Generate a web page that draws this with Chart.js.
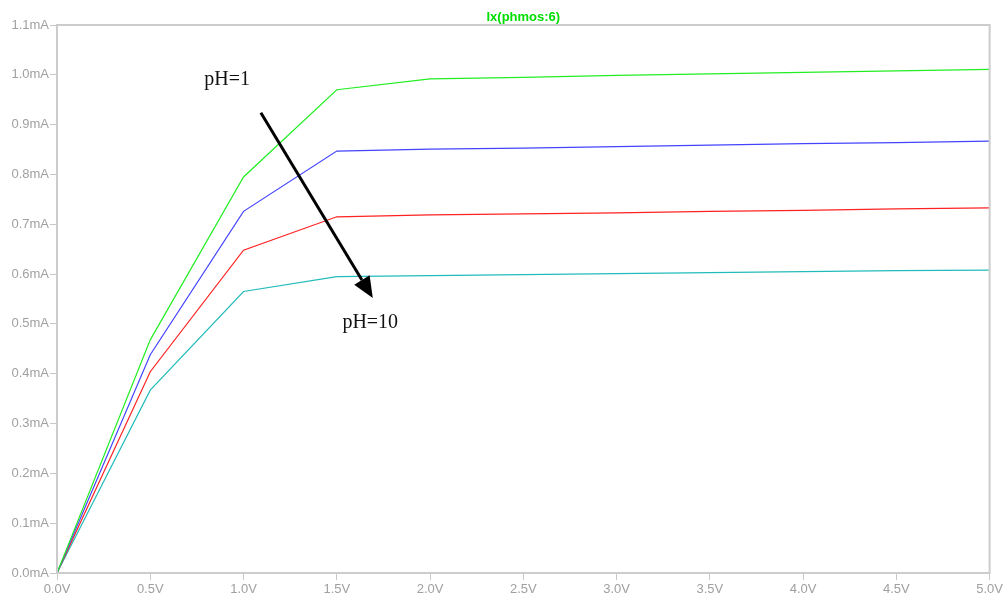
<!DOCTYPE html>
<html>
<head>
<meta charset="utf-8">
<script src="https://cdn.jsdelivr.net/npm/chart.js@4.4.0/dist/chart.umd.min.js"></script>
<style>
  html, body { margin: 0; padding: 0; background: #ffffff; }
  #wrap { width: 1005px; height: 597px; }
</style>
</head>
<body>
<div id="wrap"><canvas id="c" width="1005" height="597"></canvas></div>
<script>
// ---- data ----
const voltages = [0.0, 0.5, 1.0, 1.5, 2.0, 2.5, 3.0, 3.5, 4.0, 4.5, 5.0];
const ph1  = [0, 0.468, 0.795, 0.970, 0.992, 0.995, 0.999, 1.002, 1.005, 1.008, 1.011]; // green
const phA  = [0, 0.438, 0.726, 0.847, 0.851, 0.853, 0.856, 0.859, 0.862, 0.864, 0.867]; // blue
const phB  = [0, 0.404, 0.648, 0.715, 0.719, 0.721, 0.723, 0.726, 0.728, 0.731, 0.733]; // red
const ph10 = [0, 0.367, 0.565, 0.595, 0.597, 0.599, 0.601, 0.603, 0.605, 0.607, 0.608]; // cyan
const seriesColors = ['#22ee22', '#4444ff', '#ff2222', '#22bbbb'];
const titleText = 'Ix(phmos:6)';
const label1 = 'pH=1';
const label10 = 'pH=10';
// annotation anchors in data units [V, mA]
const label1Pos = [0.79, 0.980];
const label10Pos = [1.53, 0.492];
const arrowFrom = [1.093, 0.924];
const arrowTo = [1.693, 0.552];

const toPts = arr => voltages.map((v, i) => ({x: v, y: arr[i]}));
const allSeries = [ph1, phA, phB, ph10];

const framePlugin = {
  id: 'frame',
  afterDraw(chart) {
    const ctx = chart.ctx;
    const a = chart.chartArea;
    const xs = chart.scales.x, ys = chart.scales.y;
    ctx.save();
    // frame
    ctx.strokeStyle = '#cccccc';
    ctx.lineWidth = 2;
    ctx.strokeRect(a.left, a.top, a.right - a.left, a.bottom - a.top);
    // title
    ctx.fillStyle = '#00dd00';
    ctx.font = 'bold 13px "Liberation Sans", Arial, sans-serif';
    ctx.textAlign = 'center';
    ctx.textBaseline = 'middle';
    ctx.fillText(titleText, (a.left + a.right) / 2, 17);
    // labels
    ctx.fillStyle = '#111111';
    ctx.font = '20px "Liberation Serif", "Times New Roman", serif';
    ctx.textAlign = 'left';
    ctx.textBaseline = 'alphabetic';
    ctx.fillText(label1, xs.getPixelForValue(label1Pos[0]), ys.getPixelForValue(label1Pos[1]));
    ctx.fillText(label10, xs.getPixelForValue(label10Pos[0]), ys.getPixelForValue(label10Pos[1]));
    // arrow
    const x1 = xs.getPixelForValue(arrowFrom[0]), y1 = ys.getPixelForValue(arrowFrom[1]);
    const x2 = xs.getPixelForValue(arrowTo[0]), y2 = ys.getPixelForValue(arrowTo[1]);
    const ang = Math.atan2(y2 - y1, x2 - x1);
    const headLen = 21, headW = 9;
    const bx = x2 - headLen * Math.cos(ang), by = y2 - headLen * Math.sin(ang);
    ctx.strokeStyle = '#000000';
    ctx.lineWidth = 3;
    ctx.beginPath();
    ctx.moveTo(x1, y1);
    ctx.lineTo(bx, by);
    ctx.stroke();
    ctx.fillStyle = '#000000';
    ctx.beginPath();
    ctx.moveTo(x2, y2);
    ctx.lineTo(bx + headW * Math.sin(ang), by - headW * Math.cos(ang));
    ctx.lineTo(bx - headW * Math.sin(ang), by + headW * Math.cos(ang));
    ctx.closePath();
    ctx.fill();
    ctx.restore();
  }
};

const tickFont = { family: '"Liberation Sans", Arial, sans-serif', size: 13 };

new Chart(document.getElementById('c'), {
  type: 'line',
  data: {
    datasets: allSeries.map((s, i) => ({
      data: toPts(s),
      borderColor: seriesColors[i],
      borderWidth: 1.2,
      pointRadius: 0,
      tension: 0,
      fill: false
    }))
  },
  options: {
    responsive: false,
    animation: false,
    events: [],
    layout: { padding: { top: 25, right: 15, left: 0, bottom: 0 } },
    plugins: { legend: { display: false }, tooltip: { enabled: false }, title: { display: false } },
    scales: {
      x: {
        type: 'linear', min: 0, max: 5,
        afterFit: s => { s.height = 24; },
        border: { display: false },
        grid: { drawOnChartArea: false, drawTicks: true, tickLength: 7, color: '#c8c8c8' },
        ticks: { stepSize: 0.5, padding: 2, color: '#a0a0a0', font: tickFont, maxRotation: 0,
                 callback: v => v.toFixed(1) + 'V' }
      },
      y: {
        type: 'linear', min: 0, max: 1.1,
        afterFit: s => { s.width = 57; },
        border: { display: false },
        grid: { drawOnChartArea: false, drawTicks: true, tickLength: 7, color: '#c8c8c8' },
        ticks: { stepSize: 0.1, padding: 1, color: '#a0a0a0', font: tickFont,
                 callback: v => v.toFixed(1) + 'mA' }
      }
    }
  },
  plugins: [framePlugin]
});
</script>
</body>
</html>
